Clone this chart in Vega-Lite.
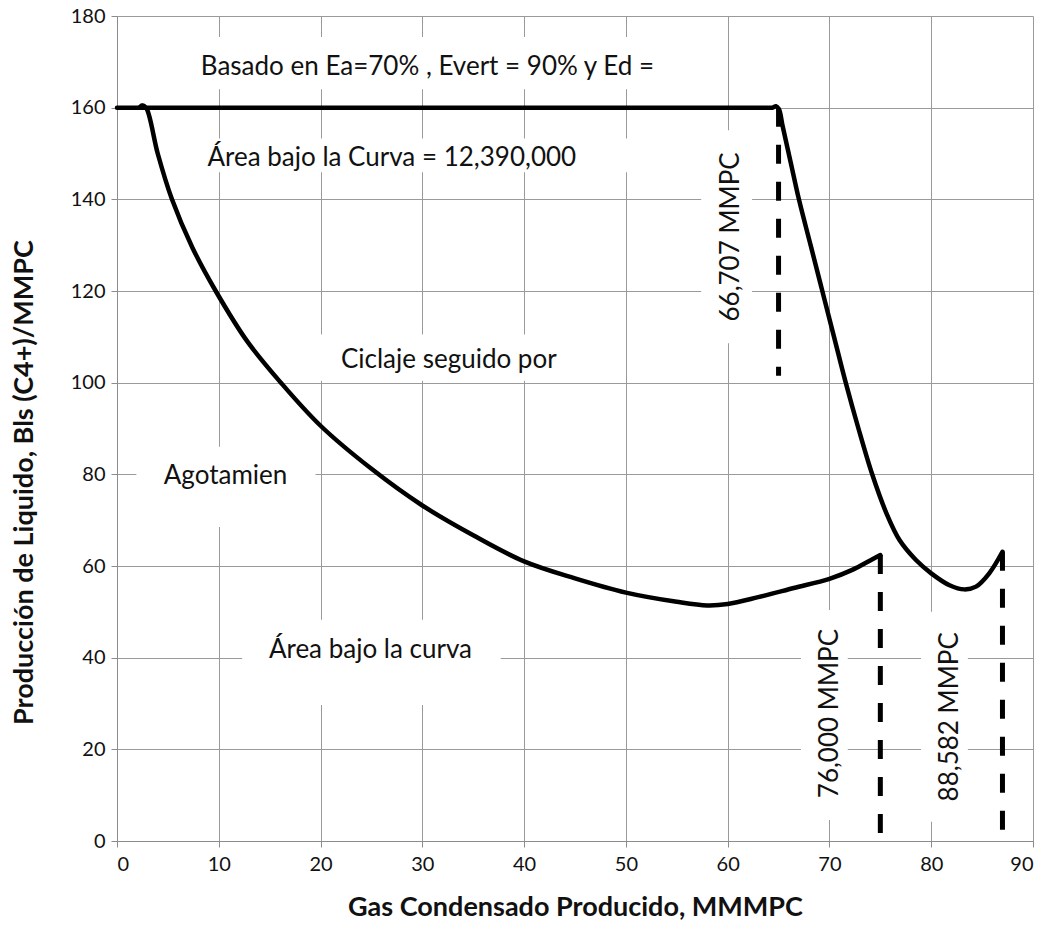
{
  "$schema": "https://vega.github.io/schema/vega-lite/v6.json",
  "width": 916,
  "height": 825,
  "autosize": {"type": "none"},
  "padding": {"left": 117, "top": 16, "right": 19, "bottom": 91},
  "background": "white",
  "config": {
    "view": {"stroke": null},
    "font": "Lato",
    "axis": {
      "domainColor": "#8c8c8c",
      "gridColor": "#9a9a9a",
      "tickColor": "#8c8c8c",
      "tickSize": 6,
      "labelFont": "Lato",
      "labelFontSize": 20,
      "labelColor": "#111",
      "titleFont": "Lato",
      "titleFontSize": 27,
      "titleFontWeight": "bold",
      "titleColor": "#111"
    }
  },
  "datasets": {
    "curves": [
      {"serie": "A", "x": 0, "y": 160},
      {"serie": "A", "x": 10, "y": 160},
      {"serie": "A", "x": 20, "y": 160},
      {"serie": "A", "x": 30, "y": 160},
      {"serie": "A", "x": 40, "y": 160},
      {"serie": "A", "x": 50, "y": 160},
      {"serie": "A", "x": 58, "y": 160},
      {"serie": "A", "x": 62, "y": 160},
      {"serie": "A", "x": 63.8, "y": 160},
      {"serie": "A", "x": 64.4, "y": 160},
      {"serie": "A", "x": 64.75, "y": 160.3},
      {"serie": "A", "x": 65.05, "y": 159.6},
      {"serie": "A", "x": 65.4, "y": 156},
      {"serie": "A", "x": 66.2, "y": 148},
      {"serie": "A", "x": 67.0, "y": 140},
      {"serie": "A", "x": 68.15, "y": 130},
      {"serie": "A", "x": 69.3, "y": 120},
      {"serie": "A", "x": 70.45, "y": 110},
      {"serie": "A", "x": 71.6, "y": 100},
      {"serie": "A", "x": 72.85, "y": 90},
      {"serie": "A", "x": 74.2, "y": 80},
      {"serie": "A", "x": 75.6, "y": 71.5},
      {"serie": "A", "x": 76.9, "y": 65.6},
      {"serie": "A", "x": 78.5, "y": 61.3},
      {"serie": "A", "x": 80, "y": 58.4},
      {"serie": "A", "x": 81.8, "y": 55.8},
      {"serie": "A", "x": 83.25, "y": 54.9},
      {"serie": "A", "x": 84.4, "y": 55.5},
      {"serie": "A", "x": 85.7, "y": 58.4},
      {"serie": "A", "x": 87.0, "y": 63.1},
      {"serie": "B", "x": 2.2, "y": 160},
      {"serie": "B", "x": 2.5, "y": 160.5},
      {"serie": "B", "x": 2.9, "y": 159.8},
      {"serie": "B", "x": 4.0, "y": 150},
      {"serie": "B", "x": 5.4, "y": 140},
      {"serie": "B", "x": 7.4, "y": 129.5},
      {"serie": "B", "x": 9.7, "y": 120},
      {"serie": "B", "x": 12.8, "y": 109},
      {"serie": "B", "x": 16.1, "y": 100},
      {"serie": "B", "x": 20, "y": 90.6},
      {"serie": "B", "x": 25, "y": 81.2},
      {"serie": "B", "x": 30, "y": 73.2},
      {"serie": "B", "x": 35, "y": 66.7},
      {"serie": "B", "x": 40, "y": 61.0},
      {"serie": "B", "x": 45, "y": 57.3},
      {"serie": "B", "x": 50, "y": 54.2},
      {"serie": "B", "x": 55, "y": 52.2},
      {"serie": "B", "x": 58, "y": 51.4},
      {"serie": "B", "x": 60, "y": 51.7},
      {"serie": "B", "x": 63, "y": 53.2},
      {"serie": "B", "x": 66.5, "y": 55.2},
      {"serie": "B", "x": 70, "y": 57.2},
      {"serie": "B", "x": 72.3, "y": 59.2},
      {"serie": "B", "x": 74, "y": 61.2},
      {"serie": "B", "x": 75.0, "y": 62.4}
    ],
    "drops": [
      {"x": 65.0, "top": 160, "bottom": 101.5},
      {"x": 75.0, "top": 62.4, "bottom": 0},
      {"x": 87.0, "top": 63.1, "bottom": 0}
    ],
    "boxes": [
      {"x1": 6.6, "x2": 56.2, "y1": 164.0, "y2": 175.4},
      {"x1": 7.1, "x2": 53.8, "y1": 145.9, "y2": 153.3},
      {"x1": 57.4, "x2": 62.4, "y1": 108.6, "y2": 155.1},
      {"x1": 17.5, "x2": 45.5, "y1": 100.4, "y2": 110.5},
      {"x1": 1.9, "x2": 19.5, "y1": 68.5, "y2": 86.0},
      {"x1": 12.3, "x2": 37.7, "y1": 29.7, "y2": 48.3},
      {"x1": 67.2, "x2": 71.8, "y1": 4.6, "y2": 50.4},
      {"x1": 79.0, "x2": 83.6, "y1": 4.2, "y2": 50.0}
    ],
    "labels": [
      {"text": "Basado en Ea=70% , Evert = 90% y Ed =", "x": 30.5, "y": 168.8, "vertical": false},
      {"text": "Área bajo la Curva = 12,390,000", "x": 27.0, "y": 149.1, "vertical": false},
      {"text": "Ciclaje seguido por", "x": 32.6, "y": 104.9, "vertical": false},
      {"text": "Agotamien", "x": 10.66, "y": 79.6, "vertical": false},
      {"text": "Área bajo la curva", "x": 24.9, "y": 41.7, "vertical": false},
      {"text": "66,707 MMPC", "x": 60.3, "y": 131.8, "vertical": true},
      {"text": "76,000 MMPC", "x": 70.06, "y": 27.8, "vertical": true},
      {"text": "88,582 MMPC", "x": 81.85, "y": 27.1, "vertical": true}
    ]
  },
  "layer": [
    {
      "data": {"name": "boxes"},
      "mark": {"type": "rect", "fill": "white", "stroke": null},
      "encoding": {
        "x": {"field": "x1", "type": "quantitative", "scale": {"domain": [0, 90], "nice": false},
              "axis": {"values": [0, 10, 20, 30, 40, 50, 60, 70, 80, 90], "title": "Gas Condensado Producido, MMMPC", "titlePadding": 20, "labelPadding": 7}},
        "x2": {"field": "x2"},
        "y": {"field": "y1", "type": "quantitative", "scale": {"domain": [0, 180], "nice": false},
              "axis": {"values": [0, 20, 40, 60, 80, 100, 120, 140, 160, 180], "title": "Producción de Liquido, Bls (C4+)/MMPC", "titlePadding": 32, "labelPadding": 6, "titleY": 466}},
        "y2": {"field": "y2"}
      }
    },
    {
      "data": {"name": "curves"},
      "mark": {"type": "line", "interpolate": "catmull-rom", "color": "black", "strokeWidth": 4.5, "strokeJoin": "round", "strokeCap": "round"},
      "encoding": {
        "x": {"field": "x", "type": "quantitative"},
        "y": {"field": "y", "type": "quantitative"},
        "detail": {"field": "serie"}
      }
    },
    {
      "data": {"name": "drops"},
      "mark": {"type": "rule", "color": "black", "strokeWidth": 5, "strokeDash": [19, 18]},
      "encoding": {
        "x": {"field": "x", "type": "quantitative"},
        "y": {"field": "top", "type": "quantitative"},
        "y2": {"field": "bottom"}
      }
    },
    {
      "data": {"name": "labels"},
      "transform": [{"filter": "!datum.vertical"}],
      "mark": {"type": "text", "font": "Lato", "fontSize": 26, "color": "#111", "align": "center", "baseline": "middle"},
      "encoding": {
        "x": {"field": "x", "type": "quantitative"},
        "y": {"field": "y", "type": "quantitative"},
        "text": {"field": "text"}
      }
    },
    {
      "data": {"name": "labels"},
      "transform": [{"filter": "datum.vertical"}],
      "mark": {"type": "text", "font": "Lato", "fontSize": 26, "color": "#111", "align": "center", "baseline": "middle", "angle": 270},
      "encoding": {
        "x": {"field": "x", "type": "quantitative"},
        "y": {"field": "y", "type": "quantitative"},
        "text": {"field": "text"}
      }
    }
  ]
}
